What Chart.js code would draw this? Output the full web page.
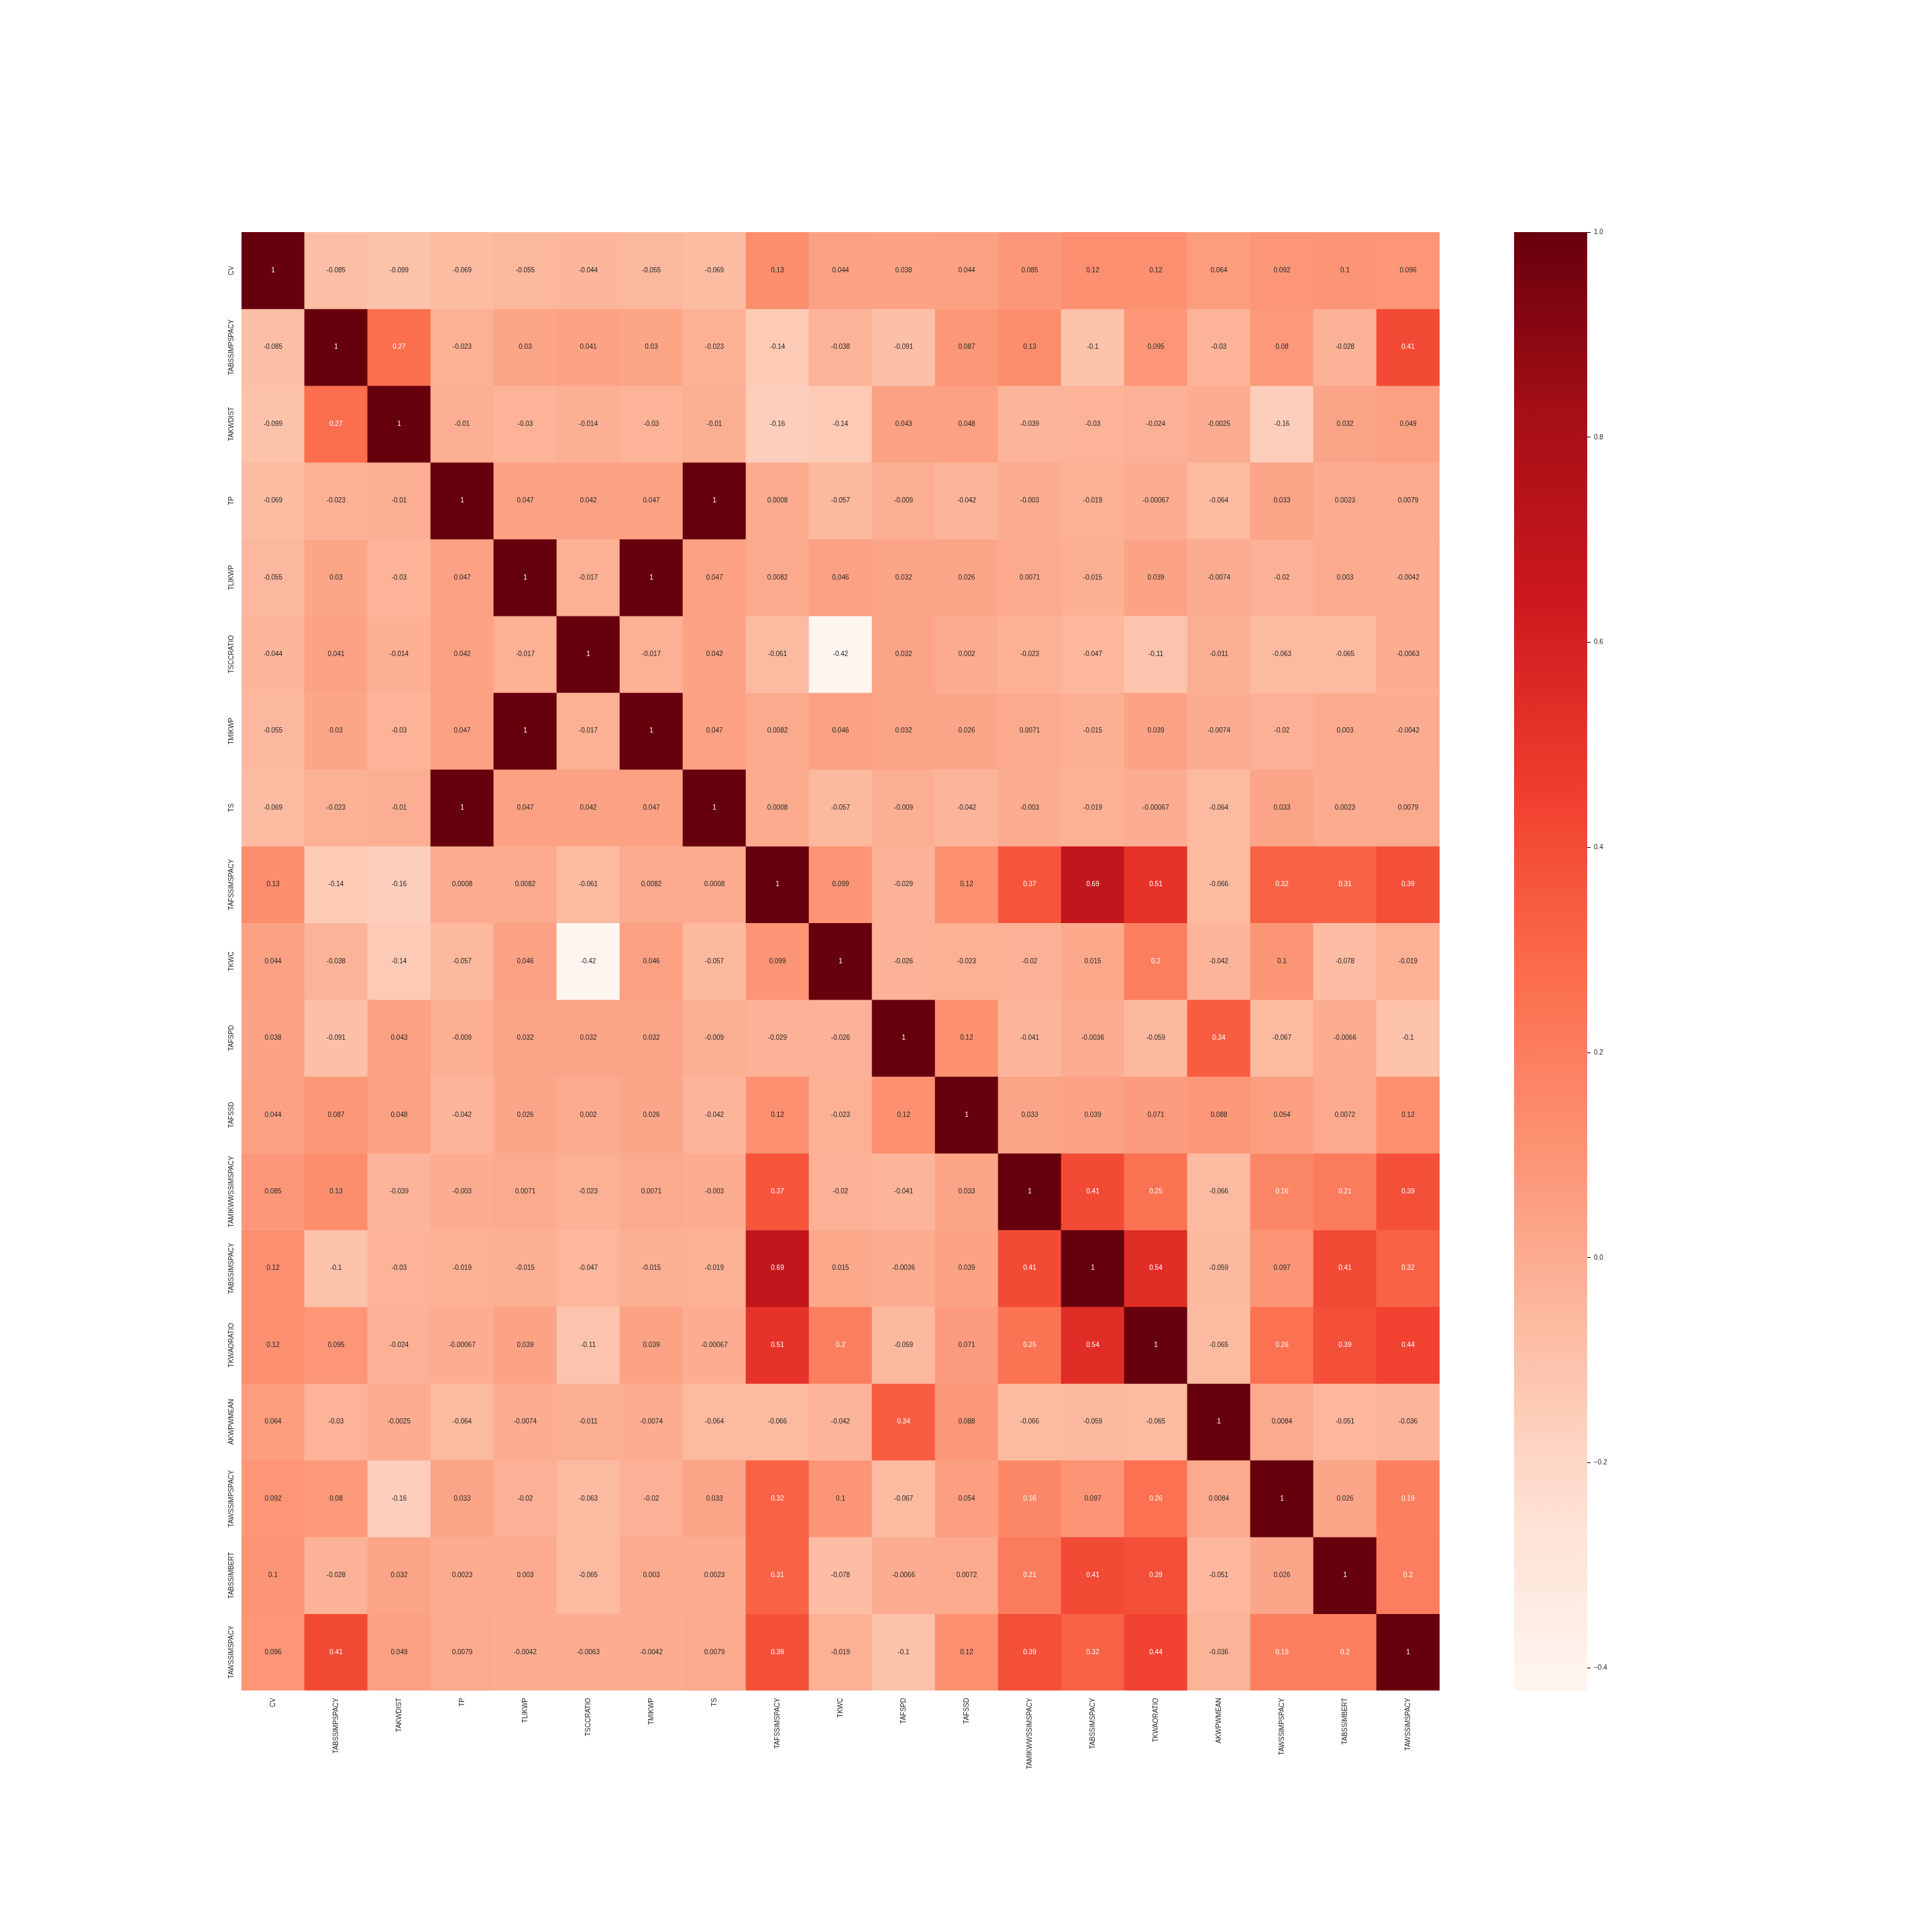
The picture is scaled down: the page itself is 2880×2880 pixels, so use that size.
<!DOCTYPE html>
<html>
<head>
<meta charset="utf-8">
<script src="https://cdn.jsdelivr.net/npm/chart.js@4.4.1/dist/chart.umd.min.js"></script>
<style>
  body { margin: 0; background: #fff; }
  #wrap { position: relative; width: 2880px; height: 2880px; }
  canvas { position: absolute; left: 0; top: 0; }
</style>
</head>
<body>
<div id="wrap">
  <canvas id="heat" width="2880" height="2880"></canvas>
  <canvas id="bar" width="2880" height="2880"></canvas>
</div>
<script>
const labels = [
  "CV", "TABSSIMPSPACY", "TAKWDIST", "TP", "TLIKWP", "TSCCRATIO", "TMIKWP", "TS",
  "TAFSSIMSPACY", "TKWC", "TAFSPD", "TAFSSD", "TAMIKWWSSIMSPACY", "TABSSIMSPACY",
  "TKWAORATIO", "AKWPWMEAN", "TAWSSIMPSPACY", "TABSSIMBERT", "TAWSSIMSPACY"
];

// one row of the correlation matrix per variable
const cv = [1, -0.085, -0.099, -0.069, -0.055, -0.044, -0.055, -0.069, 0.13, 0.044, 0.038, 0.044, 0.085, 0.12, 0.12, 0.064, 0.092, 0.1, 0.096];
const tabssimpspacy = [-0.085, 1, 0.27, -0.023, 0.03, 0.041, 0.03, -0.023, -0.14, -0.038, -0.091, 0.087, 0.13, -0.1, 0.095, -0.03, 0.08, -0.028, 0.41];
const takwdist = [-0.099, 0.27, 1, -0.01, -0.03, -0.014, -0.03, -0.01, -0.16, -0.14, 0.043, 0.048, -0.039, -0.03, -0.024, -0.0025, -0.16, 0.032, 0.049];
const tp = [-0.069, -0.023, -0.01, 1, 0.047, 0.042, 0.047, 1, 0.0008, -0.057, -0.009, -0.042, -0.003, -0.019, -0.00067, -0.064, 0.033, 0.0023, 0.0079];
const tlikwp = [-0.055, 0.03, -0.03, 0.047, 1, -0.017, 1, 0.047, 0.0082, 0.046, 0.032, 0.026, 0.0071, -0.015, 0.039, -0.0074, -0.02, 0.003, -0.0042];
const tsccratio = [-0.044, 0.041, -0.014, 0.042, -0.017, 1, -0.017, 0.042, -0.061, -0.42, 0.032, 0.002, -0.023, -0.047, -0.11, -0.011, -0.063, -0.065, -0.0063];
const tmikwp = [-0.055, 0.03, -0.03, 0.047, 1, -0.017, 1, 0.047, 0.0082, 0.046, 0.032, 0.026, 0.0071, -0.015, 0.039, -0.0074, -0.02, 0.003, -0.0042];
const ts = [-0.069, -0.023, -0.01, 1, 0.047, 0.042, 0.047, 1, 0.0008, -0.057, -0.009, -0.042, -0.003, -0.019, -0.00067, -0.064, 0.033, 0.0023, 0.0079];
const tafssimspacy = [0.13, -0.14, -0.16, 0.0008, 0.0082, -0.061, 0.0082, 0.0008, 1, 0.099, -0.029, 0.12, 0.37, 0.69, 0.51, -0.066, 0.32, 0.31, 0.39];
const tkwc = [0.044, -0.038, -0.14, -0.057, 0.046, -0.42, 0.046, -0.057, 0.099, 1, -0.026, -0.023, -0.02, 0.015, 0.2, -0.042, 0.1, -0.078, -0.019];
const tafspd = [0.038, -0.091, 0.043, -0.009, 0.032, 0.032, 0.032, -0.009, -0.029, -0.026, 1, 0.12, -0.041, -0.0036, -0.059, 0.34, -0.067, -0.0066, -0.1];
const tafssd = [0.044, 0.087, 0.048, -0.042, 0.026, 0.002, 0.026, -0.042, 0.12, -0.023, 0.12, 1, 0.033, 0.039, 0.071, 0.088, 0.054, 0.0072, 0.12];
const tamikwwssimspacy = [0.085, 0.13, -0.039, -0.003, 0.0071, -0.023, 0.0071, -0.003, 0.37, -0.02, -0.041, 0.033, 1, 0.41, 0.25, -0.066, 0.16, 0.21, 0.39];
const tabssimspacy = [0.12, -0.1, -0.03, -0.019, -0.015, -0.047, -0.015, -0.019, 0.69, 0.015, -0.0036, 0.039, 0.41, 1, 0.54, -0.059, 0.097, 0.41, 0.32];
const tkwaoratio = [0.12, 0.095, -0.024, -0.00067, 0.039, -0.11, 0.039, -0.00067, 0.51, 0.2, -0.059, 0.071, 0.25, 0.54, 1, -0.065, 0.26, 0.39, 0.44];
const akwpwmean = [0.064, -0.03, -0.0025, -0.064, -0.0074, -0.011, -0.0074, -0.064, -0.066, -0.042, 0.34, 0.088, -0.066, -0.059, -0.065, 1, 0.0084, -0.051, -0.036];
const tawssimpspacy = [0.092, 0.08, -0.16, 0.033, -0.02, -0.063, -0.02, 0.033, 0.32, 0.1, -0.067, 0.054, 0.16, 0.097, 0.26, 0.0084, 1, 0.026, 0.19];
const tabssimbert = [0.1, -0.028, 0.032, 0.0023, 0.003, -0.065, 0.003, 0.0023, 0.31, -0.078, -0.0066, 0.0072, 0.21, 0.41, 0.39, -0.051, 0.026, 1, 0.2];
const tawssimspacy = [0.096, 0.41, 0.049, 0.0079, -0.0042, -0.0063, -0.0042, 0.0079, 0.39, -0.019, -0.1, 0.12, 0.39, 0.32, 0.44, -0.036, 0.19, 0.2, 1];

const rows = [cv, tabssimpspacy, takwdist, tp, tlikwp, tsccratio, tmikwp, ts, tafssimspacy, tkwc,
  tafspd, tafssd, tamikwwssimspacy, tabssimspacy, tkwaoratio, akwpwmean, tawssimpspacy, tabssimbert, tawssimspacy];

// colour bar range and ticks
const colorMin = -0.422;
const colorMax = 1.0;
const cbTicks = [-0.4, -0.2, 0.0, 0.2, 0.4, 0.6, 0.8, 1.0];

// matplotlib "Reds"
const reds = ["#fff5f0", "#fee0d2", "#fcbba1", "#fc9272", "#fb6a4a", "#ef3b2c", "#cb181d", "#a50f15", "#67000d"];

const hexToRgb = (h) => [1, 3, 5].map((k) => parseInt(h.substr(k, 2), 16));

const colorFor = (v) => {
  let t = (v - colorMin) / (colorMax - colorMin);
  t = Math.max(0, Math.min(1, t));
  const pos = t * (reds.length - 1);
  const i = Math.min(Math.floor(pos), reds.length - 2);
  const f = pos - i;
  const a = hexToRgb(reds[i]);
  const b = hexToRgb(reds[i + 1]);
  return a.map((c, k) => Math.round(c + (b[k] - c) * f));
};

const luminance = (rgb) => {
  const lin = rgb.map((c) => {
    c = c / 255;
    return c <= 0.03928 ? c / 12.92 : Math.pow((c + 0.055) / 1.055, 2.4);
  });
  return 0.2126 * lin[0] + 0.7152 * lin[1] + 0.0722 * lin[2];
};

const fmt = (v) => String(Number(v.toPrecision(2)));

const FONT = "Liberation Sans";
const TEXT = "#262626";
Chart.defaults.font.family = FONT;
Chart.defaults.font.size = 10;
Chart.defaults.color = TEXT;

const datasets = rows.map((row, i) => ({
  label: labels[i],
  data: row.map(() => 1),
  values: row,
  backgroundColor: row.map((v) => "rgb(" + colorFor(v).join(",") + ")"),
  borderWidth: 0,
  barPercentage: 1,
  categoryPercentage: 1,
}));

const annotate = {
  id: "annotate",
  afterDatasetsDraw(chart) {
    const ctx = chart.ctx;
    ctx.save();
    ctx.font = "10px '" + FONT + "'";
    ctx.textAlign = "center";
    ctx.textBaseline = "middle";
    chart.data.datasets.forEach((ds, i) => {
      const meta = chart.getDatasetMeta(i);
      meta.data.forEach((bar, j) => {
        const v = ds.values[j];
        const p = bar.getCenterPoint();
        ctx.fillStyle = luminance(colorFor(v)) > 0.408 ? TEXT : "#ffffff";
        ctx.fillText(fmt(v), p.x, p.y);
      });
    });
    ctx.restore();
  },
  afterDraw(chart) {
    // vertical row labels on the left
    const ctx = chart.ctx;
    const y = chart.scales.y;
    const left = chart.chartArea.left;
    ctx.save();
    ctx.font = "10px '" + FONT + "'";
    ctx.fillStyle = TEXT;
    ctx.textAlign = "center";
    ctx.textBaseline = "bottom";
    labels.forEach((lab, i) => {
      ctx.save();
      ctx.translate(left - 10, y.getPixelForValue(i + 0.5));
      ctx.rotate(-Math.PI / 2);
      ctx.fillText(lab, 0, 0);
      ctx.restore();
    });
    ctx.restore();
  },
};

new Chart(document.getElementById("heat"), {
  type: "bar",
  data: { labels: labels, datasets: datasets },
  options: {
    responsive: false,
    animation: false,
    layout: { padding: { left: 260, top: 346, right: 734, bottom: 160 } },
    plugins: { legend: { display: false }, tooltip: { enabled: false } },
    scales: {
      x: {
        stacked: true,
        grid: { display: false, drawTicks: false },
        border: { display: false },
        ticks: { minRotation: 90, maxRotation: 90, autoSkip: false, padding: 11, font: { size: 10 } },
        afterFit: (s) => { s.height = 200; },
      },
      y: {
        stacked: true,
        reverse: true,
        min: 0,
        max: labels.length,
        grid: { display: false, drawTicks: false },
        border: { display: false },
        ticks: { display: false },
        afterFit: (s) => { s.width = 100; },
      },
    },
  },
  plugins: [annotate],
});

new Chart(document.getElementById("bar"), {
  type: "bar",
  data: {
    labels: [""],
    datasets: [{
      data: [[colorMin, colorMax]],
      borderWidth: 0,
      barPercentage: 1,
      categoryPercentage: 1,
      backgroundColor: (c) => {
        const area = c.chart.chartArea;
        if (!area) return reds[4];
        const g = c.chart.ctx.createLinearGradient(0, area.bottom, 0, area.top);
        reds.forEach((col, k) => g.addColorStop(k / (reds.length - 1), col));
        return g;
      },
    }],
  },
  options: {
    responsive: false,
    animation: false,
    layout: { padding: { left: 2257, top: 346, right: 454, bottom: 360 } },
    plugins: { legend: { display: false }, tooltip: { enabled: false } },
    scales: {
      x: { display: false },
      y: {
        position: "right",
        min: colorMin,
        max: colorMax,
        grid: { display: true, drawOnChartArea: false, drawTicks: true, tickLength: 5, color: "#000", lineWidth: 1 },
        border: { display: false },
        afterBuildTicks: (s) => { s.ticks = cbTicks.map((v) => ({ value: v })); },
        ticks: {
          padding: 5,
          font: { size: 10 },
          callback: (v) => v.toFixed(1).replace("-", "\u2212"),
        },
        afterFit: (s) => { s.width = 60; },
      },
    },
  },
});
</script>
</body>
</html>
